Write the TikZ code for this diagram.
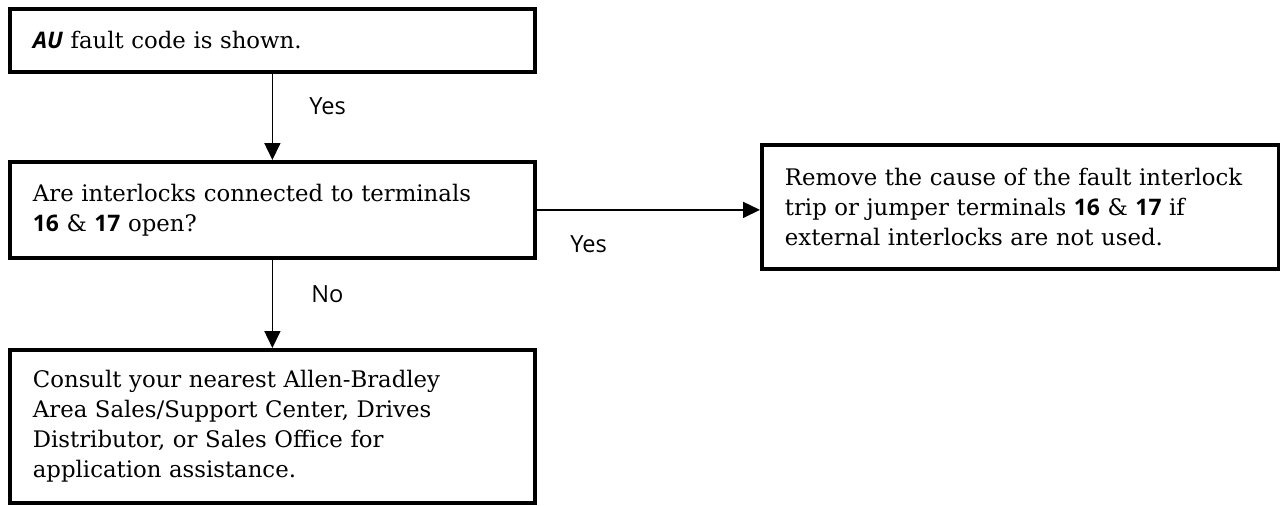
\documentclass[tikz,border=0pt]{standalone}
\usepackage{fontspec}
\setmainfont{DejaVu Serif}
\newfontfamily\sansf{Open Sans}
\usetikzlibrary{arrows.meta}
\begin{document}
\begin{tikzpicture}[x=1pt,y=1pt,
  boxstyle/.style={draw=black, line width=1.9pt, rectangle, anchor=north west,
    align=left, inner xsep=11.5pt, inner ysep=0pt,
    font=\fontsize{11.4pt}{15pt}\selectfont},
  conn/.style={draw=black, line width=0.8pt, -{Triangle[length=8.5pt,width=8pt]}},
  lbl/.style={anchor=base west, inner sep=0pt, font=\sansf\fontsize{11.8pt}{13pt}\selectfont}
]
\useasboundingbox (0,0) rectangle (640,252.5);
\fill[white] (0,0) rectangle (640,252.5);

\node[boxstyle, text width=239.5pt, minimum height=31.5pt] (b1) at (4,249)
  {\mbox{{\sansf\bfseries\itshape AU} fault code is shown.}};
\node[boxstyle, text width=239.5pt, minimum height=48pt] (b2) at (4,172.5)
  {\mbox{Are interlocks connected to terminals}\\
   \mbox{{\sansf\bfseries 16} \& {\sansf\bfseries 17} open?}};
\node[boxstyle, text width=239.5pt, minimum height=76.5pt] (b3) at (4,78.5)
  {\mbox{Consult your nearest Allen-Bradley}\\
   \mbox{Area Sales/Support Center, Drives}\\
   \mbox{Distributor, or Sales Office for}\\
   \mbox{application assistance.}};
\node[boxstyle, text width=235.5pt, minimum height=62pt] (b4) at (380,181)
  {\mbox{Remove the cause of the fault interlock}\\
   \mbox{trip or jumper terminals {\sansf\bfseries 16} \& {\sansf\bfseries 17} if}\\
   \mbox{external interlocks are not used.}};

\draw[conn] (b1.south) -- (b2.north);
\draw[conn] (b2.south) -- (b3.north);
\draw[conn] (b2.east) -- (b2.east -| b4.west);

\node[lbl] (yes1) at (154.5,195.5) {Yes};
\node[lbl] (no1) at (155.5,101.5) {No};
\node[lbl] (yes2) at (285,126.5) {Yes};
\end{tikzpicture}
\end{document}
